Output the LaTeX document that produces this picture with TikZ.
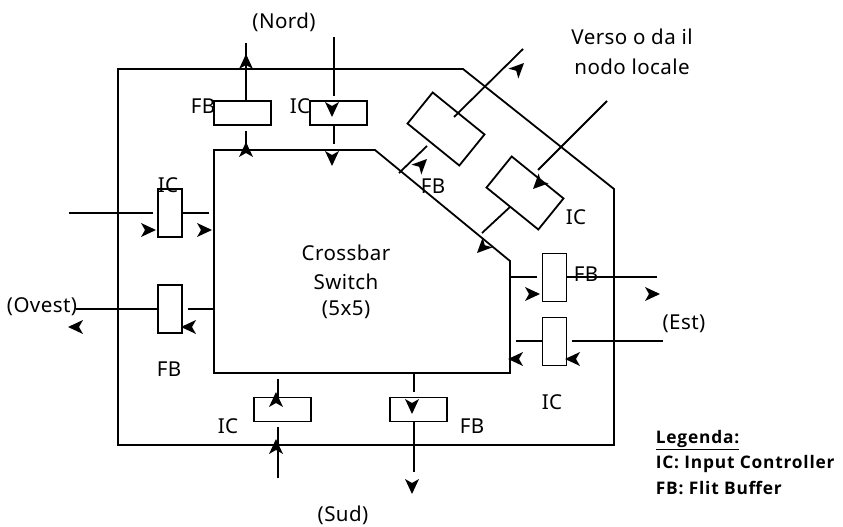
\documentclass[tikz,border=0pt]{standalone}
\usepackage{fontspec}
\setmainfont{Noto Sans}[LetterSpace=2]
\newfontfamily\legfont{Open Sans}[LetterSpace=4.5]
\begin{document}
\begin{tikzpicture}[x=0.75pt,y=-0.75pt,line width=1.35pt,
  box/.style={draw,inner sep=0pt,fill=none},
  hbox/.style={box,minimum width=42.5pt,minimum height=18pt},
  vbox/.style={box,minimum width=18pt,minimum height=36pt},
  dbox/.style={box,minimum width=50pt,minimum height=30pt,rotate=-39},
  lbl/.style={inner sep=0pt,font=\fontsize{15.4}{21}\selectfont,align=center},
  leg/.style={inner sep=0pt,anchor=west,font=\legfont\fontsize{13}{14}\selectfont\bfseries},
  ah/.pic={\fill (0,0) -- (-15,-7) -- (-11,0) -- (-15,7) -- cycle;}]
\useasboundingbox (0,0) rectangle (843,527);
% outlines
\coordinate (o1) at (118,69); \coordinate (o2) at (463,69); \coordinate (o3) at (614,189);
\coordinate (o4) at (614,445); \coordinate (o5) at (118,445);
\draw (o1) -- (o2) -- (o3) -- (o4) -- (o5) -- cycle;
\coordinate (i1) at (214,150); \coordinate (i2) at (375,150); \coordinate (i3) at (510,261);
\coordinate (i4) at (510,373); \coordinate (i5) at (214,373);
\draw (i1) -- (i2) -- (i3) -- (i4) -- (i5) -- cycle;
% buffers and controllers
\node[hbox] (fbN) at (242.5,113) {};
\node[hbox] (icN) at (338.5,113) {};
\node[hbox] (icS) at (282.5,409.5) {};
\node[hbox] (fbS) at (418.5,409.5) {};
\node[vbox] (icW) at (170,213) {};
\node[vbox] (fbW) at (170,309) {};
\node[vbox] (fbE) at (554.5,277.5) {};
\node[vbox] (icE) at (554.5,341.5) {};
\node[dbox] (fbL) at (446,129) {};
\node[dbox] (icL) at (525,193) {};
% north
\coordinate (a1) at (246,43); \coordinate (a2) at (246,101);
\draw (a1) -- (a2);
\coordinate (a3) at (246,131); \coordinate (a4) at (246,150);
\draw (a3) -- (a4);
\coordinate (b1) at (334,37); \coordinate (b2) at (334,96);
\draw (b1) -- (b2);
\coordinate (b3) at (334,125); \coordinate (b4) at (334,144);
\draw (b3) -- (b4);
% west
\coordinate (c1) at (69,213); \coordinate (c2) at (153,213);
\draw (c1) -- (c2);
\coordinate (c3) at (182,213); \coordinate (c4) at (209,213);
\draw (c3) -- (c4);
\coordinate (d1) at (76,309); \coordinate (d2) at (158,309);
\draw (d1) -- (d2);
\coordinate (d3) at (188,309); \coordinate (d4) at (214,309);
\draw (d3) -- (d4);
% south
\coordinate (e1) at (278,379); \coordinate (e2) at (278,397);
\draw (e1) -- (e2);
\coordinate (e3) at (278,427); \coordinate (e4) at (278,478);
\draw (e3) -- (e4);
\coordinate (f1) at (414,373); \coordinate (f2) at (414,392);
\draw (f1) -- (f2);
\coordinate (f3) at (414,422); \coordinate (f4) at (414,472);
\draw (f3) -- (f4);
% east
\coordinate (g1) at (510,277); \coordinate (g2) at (537,277);
\draw (g1) -- (g2);
\coordinate (g3) at (567,277); \coordinate (g4) at (657,277);
\draw (g3) -- (g4);
\coordinate (h1) at (516,341); \coordinate (h2) at (542,341);
\draw (h1) -- (h2);
\coordinate (h3) at (572,341); \coordinate (h4) at (663,341);
\draw (h3) -- (h4);
% local
\coordinate (j1) at (523,49); \coordinate (j2) at (454,117);
\draw (j1) -- (j2);
\coordinate (j3) at (427,146); \coordinate (j4) at (399,173);
\draw (j3) -- (j4);
\coordinate (k1) at (607,101); \coordinate (k2) at (538,170);
\draw (k1) -- (k2);
\coordinate (k3) at (510,207); \coordinate (k4) at (482,233);
\draw (k3) -- (k4);
% arrowheads
\path (156,230) pic {ah};
\path (212,230) pic {ah};
\path (540,294) pic {ah};
\path (660,294) pic {ah};
\path (68,327) pic[rotate=180] {ah};
\path (181,327) pic[rotate=180] {ah};
\path (508,359) pic[rotate=180] {ah};
\path (565,359) pic[rotate=180] {ah};
\path (246,54) pic[rotate=90] {ah};
\path (246,142) pic[rotate=90] {ah};
\path (276,392) pic[rotate=90] {ah};
\path (276,439) pic[rotate=90] {ah};
\path (332,117) pic[rotate=270] {ah};
\path (332,166) pic[rotate=270] {ah};
\path (412,414) pic[rotate=270] {ah};
\path (412,494) pic[rotate=270] {ah};
\path (524,63) pic[rotate=45] {ah};
\path (427,159) pic[rotate=45] {ah};
\path (533,189) pic[rotate=225] {ah};
\path (477,253) pic[rotate=225] {ah};
% labels
\node[lbl] (tN) at (284,22) {(Nord)};
\node[lbl] (tS) at (343,515) {(Sud)};
\node[lbl] (tO) at (42,307) {(Ovest)};
\node[lbl] (tE) at (684,324) {(Est)};
\node[lbl] (tV) at (632,37) {Verso o da il};
\node[lbl] (tL) at (632,67) {nodo locale};
\node[lbl] (tC) at (346,253) {Crossbar};
\node[lbl] (tW) at (346,282) {Switch};
\node[lbl] (t5) at (346,310) {(5x5)};
\node[lbl] (l1) at (203,106) {FB};
\node[lbl] (l2) at (300,106) {IC};
\node[lbl] (l3) at (168,185) {IC};
\node[lbl] (l4) at (169,369) {FB};
\node[lbl] (l5) at (228,426) {IC};
\node[lbl] (l6) at (472,426) {FB};
\node[lbl] (l7) at (552,402) {IC};
\node[lbl] (l8) at (586,274) {FB};
\node[lbl] (l9) at (576,217) {IC};
\node[lbl] (l10) at (433,186) {FB};
\node[leg] (g0) at (655,440) {\underline{Legenda:}};
\node[leg] (g01) at (655,464) {IC: Input Controller};
\node[leg] (g02) at (655,488) {FB: Flit Buffer};
\end{tikzpicture}
\end{document}
